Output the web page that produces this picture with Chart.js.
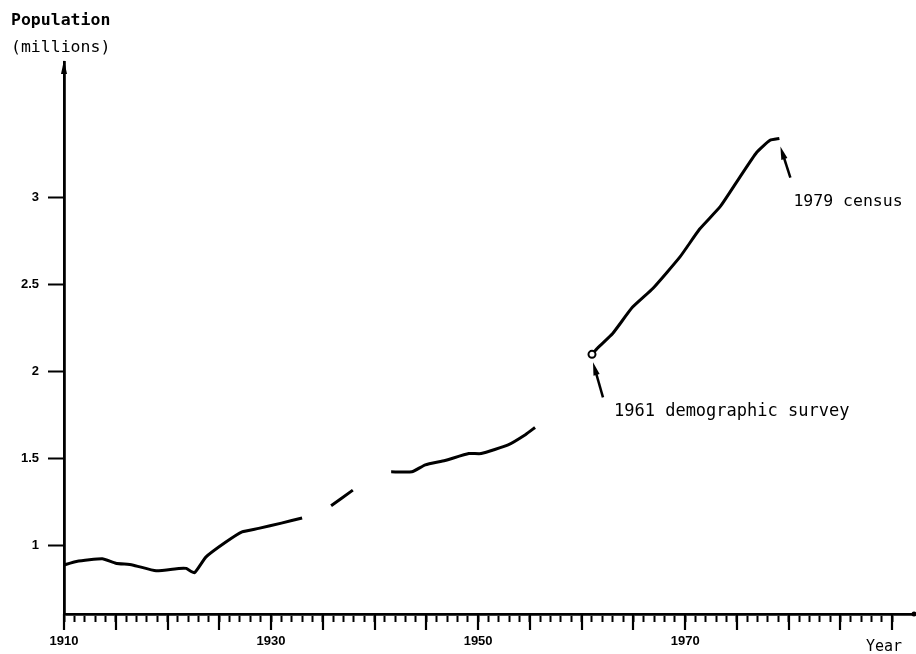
<!DOCTYPE html>
<html>
<head>
<meta charset="utf-8">
<script src="https://cdn.jsdelivr.net/npm/chart.js@4/dist/chart.umd.min.js"></script>
<style>
  html, body { margin: 0; padding: 0; background: #fff; }
  #wrap { width: 916px; height: 654px; }
</style>
</head>
<body>
<div id="wrap"><canvas id="popChart" width="916" height="654"></canvas></div>
<script>
// Population estimates (null = gap in the record)
const years = [1910, 1911.2, 1913.7, 1915, 1916.6, 1918.9, 1921.1, 1921.8, 1922.6, 1923.7, 1925.6, 1927.2, 1928.8, 1931, 1933,
    1934.5,
    1935.8, 1937.9,
    1939.5,
    1941.6, 1943.6, 1944.9, 1946.8, 1949.1, 1950.3, 1952.9, 1954.6, 1955.5,
    1958,
    1961, 1961.6, 1963, 1964.9, 1966.9, 1969.5, 1971.4, 1973.4, 1975.3, 1976.9, 1978.2, 1979.1];
const population = [0.89, 0.91, 0.925, 0.90, 0.89, 0.856, 0.87, 0.87, 0.845, 0.935, 1.02, 1.08, 1.10, 1.13, 1.16,
    null,
    1.23, 1.32,
    null,
    1.425, 1.425, 1.465, 1.49, 1.53, 1.53, 1.58, 1.64, 1.68,
    null,
    2.10, 2.14, 2.22, 2.37, 2.48, 2.66, 2.82, 2.95, 3.12, 3.26, 3.33, 3.34];

const yTicks = [1, 1.5, 2, 2.5, 3];
const xLabelYears = [1910, 1930, 1950, 1970];
const firstTickYear = 1910, lastTickYear = 1990;
const surveyYear = 1961, censusYear = 1979.1;

const mono = '"DejaVu Sans Mono", monospace';

function arrow(ctx, x1, y1, x2, y2) {
    // line from (x1,y1) to tip (x2,y2) with a narrow filled head
    const ang = Math.atan2(y2 - y1, x2 - x1);
    const len = 13, half = 3.2;
    ctx.beginPath();
    ctx.moveTo(x1, y1);
    ctx.lineTo(x2 - Math.cos(ang) * len * 0.6, y2 - Math.sin(ang) * len * 0.6);
    ctx.lineWidth = 2.5;
    ctx.stroke();
    ctx.beginPath();
    ctx.moveTo(x2, y2);
    ctx.lineTo(x2 - Math.cos(ang) * len + Math.sin(ang) * half, y2 - Math.sin(ang) * len - Math.cos(ang) * half);
    ctx.lineTo(x2 - Math.cos(ang) * len - Math.sin(ang) * half, y2 - Math.sin(ang) * len + Math.cos(ang) * half);
    ctx.closePath();
    ctx.fill();
}

const decorations = {
    id: 'decorations',
    afterDraw(chart) {
        const { ctx, scales: { x, y }, chartArea: area } = chart;
        ctx.save();
        ctx.strokeStyle = '#000';
        ctx.fillStyle = '#000';

        // longer ticks every 5 years
        ctx.lineWidth = 2.2;
        for (let yr = firstTickYear; yr <= lastTickYear; yr += 5) {
            const px = Math.round(x.getPixelForValue(yr));
            ctx.beginPath();
            ctx.moveTo(px, area.bottom);
            ctx.lineTo(px, area.bottom + 16);
            ctx.stroke();
        }

        // arrow head on the y axis, dot at the end of the x axis
        ctx.beginPath();
        ctx.moveTo(area.left, area.top - 2);
        ctx.lineTo(area.left - 3, area.top + 12);
        ctx.lineTo(area.left + 3, area.top + 12);
        ctx.closePath();
        ctx.fill();
        ctx.beginPath();
        ctx.arc(area.right - 1, area.bottom, 2.5, 0, Math.PI * 2);
        ctx.fill();

        // axis titles
        ctx.textBaseline = 'middle';
        ctx.textAlign = 'left';
        ctx.font = 'bold 16.5px ' + mono;
        ctx.fillText('Population', 11, 21);
        ctx.font = '16.5px ' + mono;
        ctx.fillText('(millions)', 11, 48);
        ctx.font = '15px ' + mono;
        ctx.fillText('Year', 866, 647);

        // annotations
        const sx = x.getPixelForValue(surveyYear), sy = y.getPixelForValue(2.10);
        arrow(ctx, sx + 11, sy + 43, sx + 1, sy + 8);
        ctx.font = '17px ' + mono;
        ctx.fillText('1961 demographic survey', sx + 22, sy + 57);

        const cx = x.getPixelForValue(censusYear), cy = y.getPixelForValue(3.34);
        arrow(ctx, cx + 11, cy + 39, cx + 1, cy + 8);
        ctx.font = '16.5px ' + mono;
        ctx.fillText('1979 census', cx + 14, cy + 63);
        ctx.restore();
    }
};

new Chart(document.getElementById('popChart'), {
    type: 'line',
    data: {
        datasets: [{
            data: years.map((yr, i) => ({ x: yr, y: population[i] })),
            borderColor: '#000',
            borderWidth: 3,
            tension: 0.15,
            spanGaps: false,
            pointRadius: c => (c.raw && c.raw.x === surveyYear ? 3.5 : 0),
            pointBackgroundColor: '#fff',
            pointBorderColor: '#000',
            pointBorderWidth: 2
        }]
    },
    options: {
        responsive: false,
        animation: false,
        layout: { padding: { top: 62, right: 1, left: 0, bottom: 0 } },
        plugins: { legend: { display: false }, tooltip: { enabled: false } },
        scales: {
            x: {
                type: 'linear',
                min: 1910,
                max: 1992.2,
                afterFit: s => { s.height = 40; },
                afterBuildTicks: s => {
                    const t = [];
                    for (let yr = firstTickYear; yr <= lastTickYear; yr++) t.push({ value: yr });
                    s.ticks = t;
                },
                grid: { drawOnChartArea: false, tickLength: 8, tickWidth: 2, tickColor: '#000' },
                border: { color: '#000', width: 2.8 },
                ticks: {
                    autoSkip: false,
                    maxRotation: 0,
                    padding: 12,
                    color: '#000',
                    font: { family: '"Liberation Sans", Arial, sans-serif', size: 13, weight: 'bold' },
                    callback: v => (xLabelYears.includes(v) ? String(v) : '')
                }
            },
            y: {
                min: 0.608,
                max: 3.78,
                afterFit: s => { s.width = 64; },
                afterBuildTicks: s => { s.ticks = yTicks.map(v => ({ value: v })); },
                grid: { drawOnChartArea: false, tickLength: 16, tickWidth: 2, tickColor: '#000' },
                border: { color: '#000', width: 2.8 },
                ticks: {
                    padding: 9,
                    color: '#000',
                    font: { family: '"Liberation Sans", Arial, sans-serif', size: 13, weight: 'bold' },
                    callback: v => String(v)
                }
            }
        }
    },
    plugins: [decorations]
});
</script>
</body>
</html>
